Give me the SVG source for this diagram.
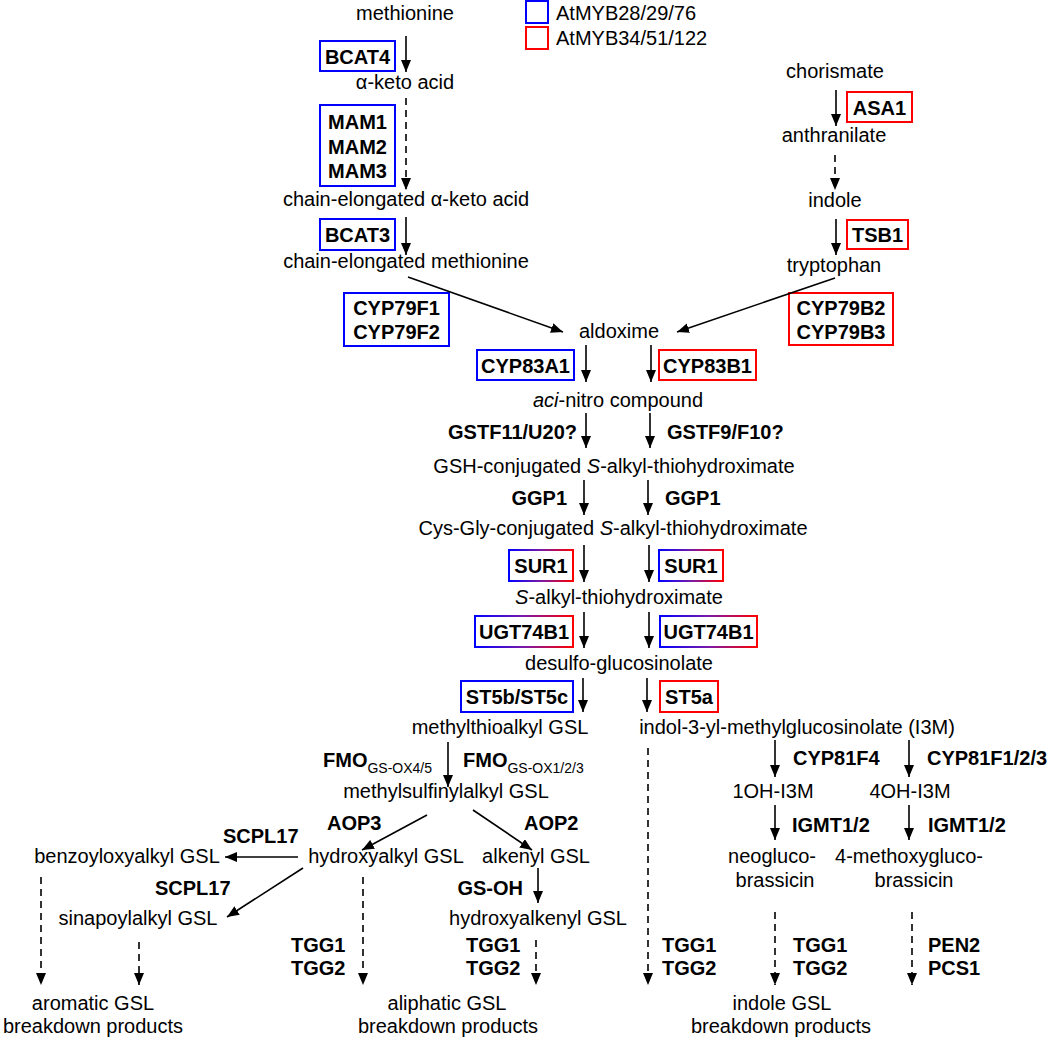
<svg xmlns="http://www.w3.org/2000/svg" width="1050" height="1039" viewBox="0 0 1050 1039">
<defs>
<marker id="ah" viewBox="0 0 12 10" refX="12" refY="5" markerWidth="12" markerHeight="10" markerUnits="userSpaceOnUse" orient="auto">
<path d="M0,0 L12,5 L0,10 z" fill="#000"/>
</marker>
<linearGradient id="br" x1="0" y1="0" x2="1" y2="0">
<stop offset="0" stop-color="#0000ff"/>
<stop offset="0.5" stop-color="#7a1aa8"/>
<stop offset="1" stop-color="#ff0000"/>
</linearGradient>
<style>
text{font-family:"Liberation Sans",Arial,sans-serif;font-size:20px;fill:#000}
.m{text-anchor:middle}
.b{font-weight:bold}
.e{text-anchor:end}
.bb{fill:none;stroke:#0000ff;stroke-width:2}
.rb{fill:none;stroke:#ff0000;stroke-width:2}
.gb{fill:none;stroke:url(#br);stroke-width:2}
.s{font-size:14px;font-weight:normal}
.c line{stroke:#000;stroke-width:1.6;marker-end:url(#ah)}
.c line.d{stroke-dasharray:7,5}
</style>
</defs>
<rect width="1050" height="1039" fill="#fff"/>

<g id="legend">
<rect class="bb" x="526" y="1" width="22" height="22"/>
<text x="556" y="20">AtMYB28/29/76</text>
<rect class="rb" x="526" y="27" width="22" height="22"/>
<text x="556" y="45">AtMYB34/51/122</text>
</g>

<g id="methionine"><text class="m" x="405" y="20">methionine</text></g>
<g id="alpha-keto-acid"><text class="m" x="405" y="89">α-keto acid</text></g>
<g id="chain-elongated-keto-acid"><text class="m" x="406" y="206">chain-elongated α-keto acid</text></g>
<g id="chain-elongated-methionine"><text class="m" x="406" y="268">chain-elongated methionine</text></g>
<g id="chorismate"><text class="m" x="835" y="78">chorismate</text></g>
<g id="anthranilate"><text class="m" x="834" y="142">anthranilate</text></g>
<g id="indole"><text class="m" x="835" y="207">indole</text></g>
<g id="tryptophan"><text class="m" x="834" y="272">tryptophan</text></g>
<g id="aldoxime"><text class="m" x="619" y="338">aldoxime</text></g>
<g id="aci-nitro"><text class="m" x="618" y="407"><tspan font-style="italic">aci</tspan>-nitro compound</text></g>
<g id="gsh-conj"><text class="m" x="614" y="473">GSH-conjugated <tspan font-style="italic">S</tspan>-alkyl-thiohydroximate</text></g>
<g id="cysgly-conj"><text class="m" x="613" y="535">Cys-Gly-conjugated <tspan font-style="italic">S</tspan>-alkyl-thiohydroximate</text></g>
<g id="s-alkyl"><text class="m" x="619" y="604"><tspan font-style="italic">S</tspan>-alkyl-thiohydroximate</text></g>
<g id="desulfo"><text class="m" x="619" y="670">desulfo-glucosinolate</text></g>
<g id="methylthioalkyl"><text class="m" x="500" y="734">methylthioalkyl GSL</text></g>
<g id="i3m"><text class="m" x="797" y="734">indol-3-yl-methylglucosinolate (I3M)</text></g>
<g id="methylsulfinylalkyl"><text class="m" x="446" y="798">methylsulfinylalkyl GSL</text></g>
<g id="benzoyloxyalkyl"><text class="m" x="127" y="863">benzoyloxyalkyl GSL</text></g>
<g id="hydroxyalkyl"><text class="m" x="386" y="863">hydroxyalkyl GSL</text></g>
<g id="alkenyl"><text class="m" x="536" y="863">alkenyl GSL</text></g>
<g id="sinapoylalkyl"><text class="m" x="138" y="925">sinapoylalkyl GSL</text></g>
<g id="hydroxyalkenyl"><text class="m" x="538" y="925">hydroxyalkenyl GSL</text></g>
<g id="oh1-i3m"><text class="m" x="773" y="798">1OH-I3M</text></g>
<g id="oh4-i3m"><text class="m" x="910" y="798">4OH-I3M</text></g>
<g id="neoglucobrassicin"><text class="m" x="772" y="863">neogluco-</text><text class="m" x="775" y="887">brassicin</text></g>
<g id="methoxyglucobrassicin"><text class="m" x="909" y="863">4-methoxygluco-</text><text class="m" x="914" y="887">brassicin</text></g>
<g id="aromatic-products"><text class="m" x="93" y="1010">aromatic GSL</text><text class="m" x="93" y="1033">breakdown products</text></g>
<g id="aliphatic-products"><text class="m" x="447" y="1010">aliphatic GSL</text><text class="m" x="448" y="1033">breakdown products</text></g>
<g id="indole-products"><text class="m" x="782" y="1010">indole GSL</text><text class="m" x="781" y="1033">breakdown products</text></g>

<g id="bcat4"><rect class="bb" x="320" y="41" width="75" height="30"/><text class="m b" x="357.5" y="64">BCAT4</text></g>
<g id="mam"><rect class="bb" x="320" y="105" width="75" height="81"/><text class="m b" x="357.5" y="129">MAM1</text><text class="m b" x="357.5" y="154">MAM2</text><text class="m b" x="357.5" y="178">MAM3</text></g>
<g id="bcat3"><rect class="bb" x="320" y="219" width="75" height="31"/><text class="m b" x="357.5" y="242">BCAT3</text></g>
<g id="asa1"><rect class="rb" x="847" y="92" width="65" height="30"/><text class="m b" x="879.5" y="115">ASA1</text></g>
<g id="tsb1"><rect class="rb" x="847" y="220" width="61" height="29"/><text class="m b" x="877.5" y="242">TSB1</text></g>
<g id="cyp79f"><rect class="bb" x="344" y="293" width="105" height="53"/><text class="m b" x="396.5" y="315">CYP79F1</text><text class="m b" x="396.5" y="339">CYP79F2</text></g>
<g id="cyp79b"><rect class="rb" x="789" y="293" width="104" height="52"/><text class="m b" x="841" y="315">CYP79B2</text><text class="m b" x="841" y="339">CYP79B3</text></g>
<g id="cyp83a1"><rect class="bb" x="477" y="350" width="97" height="30"/><text class="m b" x="525.5" y="373">CYP83A1</text></g>
<g id="cyp83b1"><rect class="rb" x="659" y="350" width="97" height="30"/><text class="m b" x="707.5" y="373">CYP83B1</text></g>
<g id="gstf-left"><text class="e b" x="577" y="439">GSTF11/U20?</text></g>
<g id="gstf-right"><text class="b" x="667" y="439">GSTF9/F10?</text></g>
<g id="ggp1-left"><text class="e b" x="567" y="505">GGP1</text></g>
<g id="ggp1-right"><text class="b" x="665" y="505">GGP1</text></g>
<g id="sur1-left"><rect class="gb" x="509" y="550" width="64" height="31"/><text class="m b" x="541" y="573">SUR1</text></g>
<g id="sur1-right"><rect class="gb" x="659" y="550" width="64" height="31"/><text class="m b" x="691" y="573">SUR1</text></g>
<g id="ugt-left"><rect class="gb" x="475" y="616" width="98" height="31"/><text class="m b" x="524" y="639">UGT74B1</text></g>
<g id="ugt-right"><rect class="gb" x="660" y="616" width="97" height="31"/><text class="m b" x="708.5" y="639">UGT74B1</text></g>
<g id="st5bc"><rect class="bb" x="461" y="681" width="112" height="31"/><text class="m b" x="517" y="704">ST5b/ST5c</text></g>
<g id="st5a"><rect class="rb" x="660" y="681" width="58" height="31"/><text class="m b" x="689" y="704">ST5a</text></g>
<g id="fmo-left"><text class="b" x="323" y="767">FMO<tspan class="s" dy="6">GS-OX4/5</tspan></text></g>
<g id="fmo-right"><text class="b" x="463" y="767">FMO<tspan class="s" dy="6">GS-OX1/2/3</tspan></text></g>
<g id="aop3"><text class="b" x="327" y="830">AOP3</text></g>
<g id="aop2"><text class="b" x="524" y="830">AOP2</text></g>
<g id="scpl17-a"><text class="b" x="223" y="843">SCPL17</text></g>
<g id="scpl17-b"><text class="b" x="155" y="895">SCPL17</text></g>
<g id="gs-oh"><text class="e b" x="523" y="895">GS-OH</text></g>
<g id="tgg-a"><text class="b" x="291" y="952">TGG1</text><text class="b" x="291" y="975">TGG2</text></g>
<g id="tgg-b"><text class="b" x="466" y="952">TGG1</text><text class="b" x="466" y="975">TGG2</text></g>
<g id="tgg-c"><text class="b" x="662" y="952">TGG1</text><text class="b" x="662" y="975">TGG2</text></g>
<g id="tgg-d"><text class="b" x="793" y="952">TGG1</text><text class="b" x="793" y="975">TGG2</text></g>
<g id="pen2-pcs1"><text class="b" x="928" y="952">PEN2</text><text class="b" x="928" y="975">PCS1</text></g>
<g id="cyp81f4"><text class="b" x="793" y="765">CYP81F4</text></g>
<g id="cyp81f123"><text class="b" x="927" y="765">CYP81F1/2/3</text></g>
<g id="igmt-a"><text class="b" x="792" y="832">IGMT1/2</text></g>
<g id="igmt-b"><text class="b" x="928" y="832">IGMT1/2</text></g>

<g id="connectors" class="c">
<line x1="406" y1="36" x2="406" y2="72"/>
<line class="d" x1="406" y1="98" x2="406" y2="190"/>
<line x1="406" y1="217" x2="406" y2="255"/>
<line x1="836" y1="90" x2="836" y2="126"/>
<line class="d" x1="835" y1="155" x2="835" y2="190"/>
<line x1="836" y1="219" x2="836" y2="255"/>
<line x1="408" y1="277" x2="563" y2="332"/>
<line x1="835" y1="278" x2="677" y2="332"/>
<line x1="586" y1="345" x2="586" y2="382"/>
<line x1="651" y1="345" x2="651" y2="382"/>
<line x1="586" y1="413" x2="586" y2="448"/>
<line x1="650" y1="413" x2="650" y2="448"/>
<line x1="584" y1="480" x2="584" y2="515"/>
<line x1="648" y1="480" x2="648" y2="515"/>
<line x1="584" y1="545" x2="584" y2="582"/>
<line x1="649" y1="545" x2="649" y2="582"/>
<line x1="584" y1="612" x2="584" y2="648"/>
<line x1="649" y1="612" x2="649" y2="648"/>
<line x1="583" y1="678" x2="583" y2="712"/>
<line x1="647" y1="678" x2="647" y2="712"/>
<line x1="448" y1="742" x2="448" y2="787"/>
<line x1="427" y1="815" x2="362" y2="850"/>
<line x1="473" y1="810" x2="532" y2="850"/>
<line x1="298" y1="857" x2="225" y2="857"/>
<line x1="303" y1="868" x2="227" y2="917"/>
<line x1="538" y1="868" x2="538" y2="903"/>
<line x1="775" y1="740" x2="775" y2="777"/>
<line x1="909" y1="740" x2="909" y2="777"/>
<line x1="775" y1="805" x2="775" y2="840"/>
<line x1="909" y1="805" x2="909" y2="840"/>
<line class="d" x1="648" y1="748" x2="648" y2="985"/>
<line class="d" x1="41" y1="877" x2="41" y2="985"/>
<line class="d" x1="139" y1="942" x2="139" y2="985"/>
<line class="d" x1="363" y1="877" x2="363" y2="985"/>
<line class="d" x1="536" y1="940" x2="536" y2="985"/>
<line class="d" x1="775" y1="912" x2="775" y2="985"/>
<line class="d" x1="912" y1="912" x2="912" y2="985"/>
</g>
</svg>
